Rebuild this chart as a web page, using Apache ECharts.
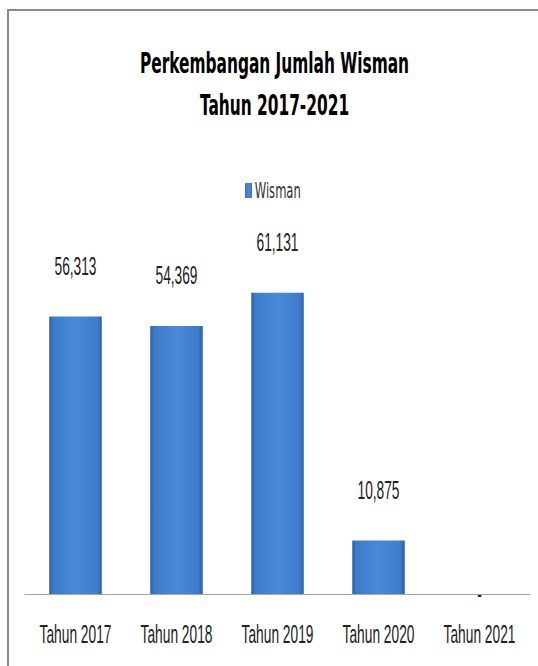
<!DOCTYPE html>
<html>
<head>
<meta charset="utf-8">
<script src="https://cdn.jsdelivr.net/npm/echarts@6/dist/echarts.min.js"></script>
<style>
  html, body { margin: 0; padding: 0; background: #fff; overflow: hidden; width: 538px; height: 666px; }
  #wrap { position: absolute; left: 0; top: 0; height: 666px; transform-origin: 0 0; }
  #frame { position: absolute; left: 7px; top: 9px; width: 600px; height: 700px;
           border-top: 2px solid #8a8a8a; border-left: 2px solid #8a8a8a; pointer-events: none; }
</style>
</head>
<body>
<div id="wrap"></div>
<div id="frame"></div>
<script>
// ---- data ----
const categories = ['Tahun 2017', 'Tahun 2018', 'Tahun 2019', 'Tahun 2020', 'Tahun 2021'];
const wismanValues = [56313, 54369, 61131, 10875, 0];
const seriesName = 'Wisman';
const titleLines = ['Perkembangan Jumlah Wisman', 'Tahun 2017-2021'];

// ---- layout (horizontal squeeze like the reference) ----
const S = 0.55;
const W = 538 / S;
const wrap = document.getElementById('wrap');
wrap.style.width = W + 'px';
wrap.style.transform = 'scaleX(' + S + ')';

const chart = echarts.init(wrap, null, { renderer: 'svg', width: W, height: 666 });

const barColor = new echarts.graphic.LinearGradient(0, 0, 1, 0, [
  { offset: 0, color: '#2a5fa8' },
  { offset: 0.08, color: '#3d7cca' },
  { offset: 0.5, color: '#4a89d7' },
  { offset: 0.92, color: '#3d7cca' },
  { offset: 1, color: '#2a5fa8' }
]);

const fmt = v => v === 0 ? '-' : String(v).replace(/\B(?=(\d{3})+(?!\d))/g, ',');

const seriesData = wismanValues.map(v => v === 0
  ? { value: v, label: { position: 'inside', color: '#222' } }
  : v);

chart.setOption({
  animation: false,
  backgroundColor: '#fff',
  title: {
    text: titleLines.join('\n'),
    left: 274.5 / S - 5,
    top: 37,
    textAlign: 'center',
    textStyle: {
      fontFamily: 'DejaVu Sans',
      fontWeight: 'bold',
      fontSize: 28,
      lineHeight: 42,
      color: '#000'
    }
  },
  legend: {
    data: [seriesName],
    left: 245 / S - 5,
    top: 175,
    icon: 'rect',
    itemWidth: 7 / S,
    itemHeight: 15,
    itemGap: 4,
    textStyle: { fontFamily: 'DejaVu Sans', fontSize: 21, color: '#333' }
  },
  grid: { left: 25 / S, right: 8 / S, top: 249, bottom: 72, containLabel: false },
  xAxis: {
    type: 'category',
    data: categories,
    axisLine: { lineStyle: { color: '#8a8a8a', width: 1 } },
    axisTick: { show: false },
    axisLabel: {
      margin: 28,
      fontFamily: 'Liberation Sans',
      fontSize: 25,
      color: '#222',
      interval: 0
    }
  },
  yAxis: {
    type: 'value',
    min: 0,
    max: 70000,
    show: false,
    splitLine: { show: false }
  },
  series: [{
    name: seriesName,
    type: 'bar',
    data: seriesData,
    barWidth: '52%',
    itemStyle: { color: barColor },
    label: {
      show: true,
      position: 'top',
      distance: 38,
      fontFamily: 'Liberation Sans',
      fontSize: 25,
      color: '#222',
      formatter: p => fmt(p.value)
    }
  }]
});
</script>
</body>
</html>
